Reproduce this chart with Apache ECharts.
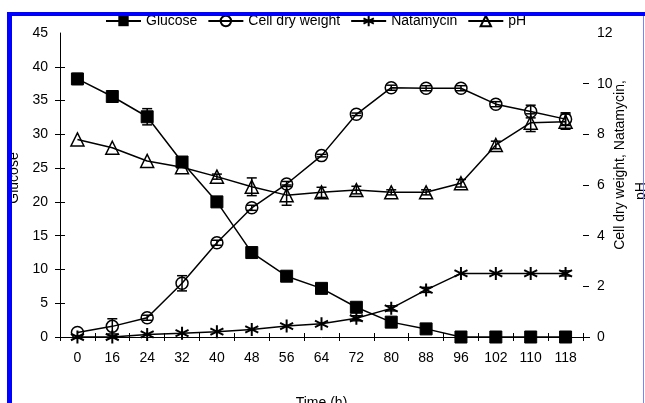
<!DOCTYPE html>
<html>
<head>
<meta charset="utf-8">
<script src="https://cdn.jsdelivr.net/npm/echarts@6/dist/echarts.min.js"></script>
<style>
html,body{margin:0;padding:0;background:#fff;}
#chart{width:645px;height:403px;}
</style>
</head>
<body>
<div id="chart"></div>
<script>
var hours = ['0','16','24','32','40','48','56','64','72','80','88','96','102','110','118'];
var glucose = [38.2,35.6,32.6,25.9,20.0,12.5,9.0,7.2,4.4,2.2,1.2,0,0,0,0];
var glucoseErr = [0.8,0,1.2,0.5,0,0,0,0,0,0,0,0,0,0,0];
var cellDryWeight = [0.18,0.42,0.76,2.12,3.72,5.1,6.04,7.16,8.79,9.84,9.82,9.82,9.19,8.9,8.6];
var cellErr = [0,0.3,0.1,0.3,0.1,0.1,0.1,0.05,0.05,0.1,0.1,0.1,0.1,0.25,0.25];
var natamycin = [0,0,0.1,0.15,0.21,0.3,0.43,0.52,0.74,1.13,1.86,2.51,2.51,2.51,2.51];
var natErr = [0,0,0,0,0,0,0,0,0.1,0.1,0.1,0,0,0,0.1];
var pH = [7.8,7.47,6.95,6.7,6.33,5.93,5.6,5.71,5.8,5.71,5.71,6.07,7.58,8.46,8.5];
var pHErr = [0,0,0,0,0.1,0.35,0.4,0.2,0.15,0.1,0.1,0.15,0.15,0.35,0.3];
var leftTicks = [0,5,10,15,20,25,30,35,40];
var rightTicks = [0,2,4,6,8,10];
var leftRange = {min:0, max:45, interval:5};
var rightRange = {min:0, max:12, interval:2};
var rightTitle = ['Cell dry weight, Natamycin,', 'pH'];

function errData(vals, errs){
  var out = [];
  for (var i=0;i<vals.length;i++){ if (errs[i]>0) out.push([i, vals[i]-errs[i], vals[i]+errs[i]]); }
  return out;
}
function errRender(params, api){
  var x = api.value(0);
  var lo = api.coord([x, api.value(1)]);
  var hi = api.coord([x, api.value(2)]);
  var w = 5;
  var st = {stroke:'#000', lineWidth:1.5, fill:null};
  return {type:'group', children:[
    {type:'line', shape:{x1:lo[0],y1:lo[1],x2:hi[0],y2:hi[1]}, style:st},
    {type:'line', shape:{x1:lo[0]-w,y1:lo[1],x2:lo[0]+w,y2:lo[1]}, style:st},
    {type:'line', shape:{x1:hi[0]-w,y1:hi[1],x2:hi[0]+w,y2:hi[1]}, style:st}
  ]};
}
var FONT = 'Liberation Sans, Arial, sans-serif';
var starPath = 'path://M0,-1L0,1M-0.87,-0.5L0.87,0.5M-0.87,0.5L0.87,-0.5';
var lineStyle = {color:'#000', width:1.5};

var chart = echarts.init(document.getElementById('chart'), null, {renderer:'canvas'});
chart.setOption({
  animation:false,
  backgroundColor:'#fff',
  textStyle:{fontFamily:FONT},
  grid:{left:60, right:62, top:33, bottom:66, containLabel:false, outerBoundsMode:'none'},
  legend:{
    left:105, top:14, padding:0, itemWidth:35, itemHeight:13, itemGap:10,
    textStyle:{fontSize:14, color:'#000', fontFamily:FONT},
    data:['Glucose','Cell dry weight','Natamycin','pH']
  },
  xAxis:[
    {type:'category', data:hours, boundaryGap:true,
     name:'Time (h)', nameLocation:'middle', nameGap:59,
     nameTextStyle:{fontSize:14, color:'#000', fontFamily:FONT},
     axisLine:{lineStyle:{color:'#000', width:1}},
     axisTick:{show:true, inside:false, length:4, lineStyle:{color:'#000'}},
     axisLabel:{color:'#000', fontSize:14, margin:14, fontFamily:FONT}},
    {type:'category', data:hours, boundaryGap:true, position:'bottom',
     axisLine:{show:false},
     axisTick:{show:true, inside:true, length:4, lineStyle:{color:'#000'}},
     axisLabel:{show:false}}
  ],
  yAxis:[
    {type:'value', position:'left', min:leftRange.min, max:leftRange.max, interval:leftRange.interval,
     name:'Glucose', nameLocation:'middle', nameGap:36, nameRotate:90,
     nameTextStyle:{fontSize:14, color:'#000', fontFamily:FONT, padding:[0,0,0,14]},
     axisLine:{show:true, lineStyle:{color:'#000', width:1}},
     axisTick:{show:true, length:5, customValues:leftTicks, lineStyle:{color:'#000'}},
     axisLabel:{color:'#000', fontSize:14, margin:12, fontFamily:FONT},
     splitLine:{show:false}},
    {type:'value', position:'right', min:rightRange.min, max:rightRange.max, interval:rightRange.interval,
     axisLine:{show:false},
     axisTick:{show:true, length:6, customValues:rightTicks, lineStyle:{color:'#000'}},
     axisLabel:{color:'#000', fontSize:14, margin:14, fontFamily:FONT},
     splitLine:{show:false}},
    {type:'value', position:'left', min:leftRange.min, max:leftRange.max, interval:leftRange.interval,
     axisLine:{show:false},
     axisTick:{show:true, inside:true, length:5, customValues:leftTicks, lineStyle:{color:'#000'}},
     axisLabel:{show:false}, splitLine:{show:false}}
  ],
  series:[
    {name:'Glucose', type:'line', yAxisIndex:0, data:glucose, symbol:'rect', symbolSize:12,
     lineStyle:lineStyle, itemStyle:{color:'#000', borderColor:'#000'}, z:5},
    {name:'Cell dry weight', type:'line', yAxisIndex:1, data:cellDryWeight, symbol:'circle', symbolSize:12,
     lineStyle:lineStyle, itemStyle:{color:'rgba(255,255,255,0)', borderColor:'#000', borderWidth:1.5}, z:5},
    {name:'Natamycin', type:'line', yAxisIndex:1, data:natamycin, symbol:starPath, symbolSize:13,
     lineStyle:lineStyle, itemStyle:{color:'rgba(255,255,255,0)', borderColor:'#000', borderWidth:2}, z:5},
    {name:'pH', type:'line', yAxisIndex:1, data:pH, symbol:'triangle', symbolSize:13,
     lineStyle:lineStyle, itemStyle:{color:'rgba(255,255,255,0)', borderColor:'#000', borderWidth:1.5}, z:5},
    {type:'custom', yAxisIndex:0, data:errData(glucose, glucoseErr), renderItem:errRender, z:6, silent:true},
    {type:'custom', yAxisIndex:1, data:errData(cellDryWeight, cellErr), renderItem:errRender, z:6, silent:true},
    {type:'custom', yAxisIndex:1, data:errData(natamycin, natErr), renderItem:errRender, z:6, silent:true},
    {type:'custom', yAxisIndex:1, data:errData(pH, pHErr), renderItem:errRender, z:6, silent:true}
  ],
  graphic:[
    {type:'text', x:620, y:165, rotation:Math.PI/2, z:50,
     style:{text:rightTitle[0], fontSize:14, fontFamily:FONT, fill:'#000', align:'center', verticalAlign:'middle'}},
    {type:'text', x:641, y:191, rotation:Math.PI/2, z:50,
     style:{text:rightTitle[1], fontSize:14, fontFamily:FONT, fill:'#000', align:'center', verticalAlign:'middle'}},
    {type:'line', z:100, shape:{x1:583, y1:337.5, x2:590, y2:337.5}, style:{stroke:'#000', lineWidth:1}},
    {type:'line', z:100, shape:{x1:7, y1:14, x2:645, y2:14}, style:{stroke:'#0000ff', lineWidth:4}},
    {type:'line', z:100, shape:{x1:9.5, y1:12, x2:9.5, y2:403}, style:{stroke:'#0000ff', lineWidth:5}},
    {type:'line', z:100, shape:{x1:643.5, y1:16, x2:643.5, y2:403}, style:{stroke:'#8080ff', lineWidth:1}}
  ]
});
</script>
</body>
</html>
